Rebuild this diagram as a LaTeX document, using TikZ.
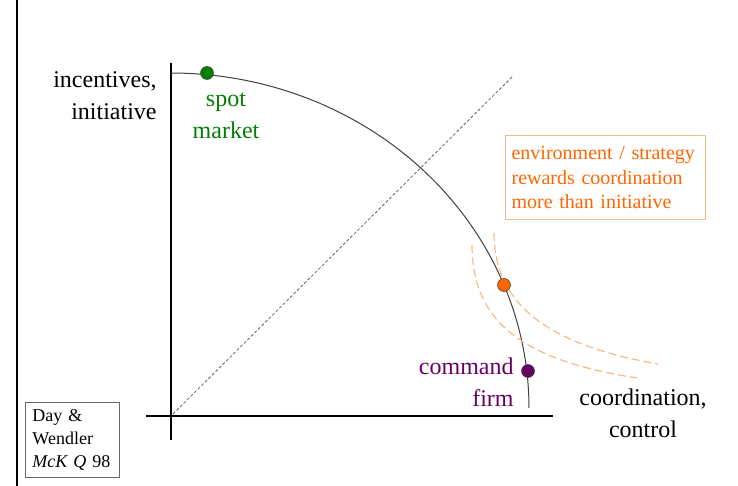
\documentclass[tikz,border=0pt]{standalone}
\usepackage{fontspec}
\setmainfont{Liberation Serif}
\usepackage{xcolor}
\definecolor{spotGreen}{RGB}{0, 128, 0}
\definecolor{firmPurple}{RGB}{102, 0, 102}
\definecolor{envOrange}{RGB}{255, 102, 0}
\definecolor{envLight}{RGB}{250, 185, 130}

\begin{document}
\begin{tikzpicture}[x=0.5pt, y=-0.5pt,
    axis/.style={line width=1.2pt, black},
    dotnode/.style={circle, draw=black!70, line width=0.3pt, minimum size=6.5pt, inner sep=0pt},
    lbl/.style={font=\fontsize{12}{16}\selectfont, inner sep=0pt}]
                \useasboundingbox (0,0) rectangle (738,486);

                % Page margin line
                \draw[line width=1pt] (17,0) -- (17,486);

                % Axes
                \coordinate (origin) at (171,416);
                \coordinate (ytop) at (171,63);
                \coordinate (ybot) at (171,440);
                \coordinate (xleft) at (146,416);
                \coordinate (xright) at (553,416);
                \draw[axis] (ybot) -- (ytop);
                \draw[axis] (xleft) -- (xright);

                % 45 degree line
                \coordinate (diagend) at (512,77);
                \draw[black!60, line width=0.4pt, dash pattern=on 1.5pt off 1pt] ([shift={(2,-2)}]origin) -- (diagend);

                % Frontier
                \draw[black!75, line width=0.5pt] plot[domain=90:0, samples=80, smooth] ({171+358*cos(\x)},{408-335*sin(\x)});

                % Indifference curves
                \draw[envLight, line width=0.6pt, dash pattern=on 4pt off 2pt] (494,233) .. controls (494,292) and (530,342) .. (658,364);
                \draw[envLight, line width=0.6pt, dash pattern=on 4pt off 2pt] (472,245) .. controls (472,320) and (520,360) .. (637,378);

                % Points on frontier
                \node[dotnode, fill=spotGreen] (spot) at (207,73) {};
                \node[dotnode, fill=envOrange] (opt) at (504,285) {};
                \node[dotnode, fill=firmPurple] (firm) at (528,371) {};

                % Labels
                \node[lbl, align=right, anchor=east] (yaxislbl) at (157,96) {incentives,\\initiative};
                \node[lbl, align=center, text=spotGreen] (spotlbl) at (226,116) {spot\\market};
                \node[lbl, align=right, anchor=east, text=firmPurple] (firmlbl) at (514,382) {command\\firm};
                \node[lbl, align=center] (xaxislbl) at (643,413) {coordination,\\control};

                % Boxes
                \node[draw=envLight, line width=0.6pt, text=envOrange, align=left, anchor=north west,
                      font=\fontsize{10}{12.2}\selectfont, inner xsep=3pt, inner ysep=5.5pt, text width=94pt] (envbox) at (505,135)
                      {environment / strategy\\rewards coordination\\more than initiative};
                \node[draw=black!60, line width=0.5pt, align=left, anchor=north west,
                      font=\fontsize{9}{11.5}\selectfont, inner xsep=3.5pt, inner ysep=3.5pt, text width=40pt] (srcbox) at (25,402)
                      {Day \&\\Wendler\\\textit{McK Q} 98};
            \end{tikzpicture}
\end{document}
